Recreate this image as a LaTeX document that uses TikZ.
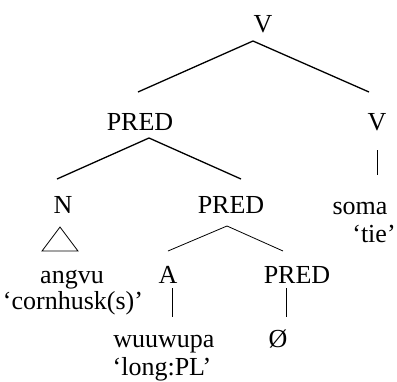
\documentclass[tikz,border=0pt]{standalone}
\usepackage{fontspec}
\setmainfont{Liberation Serif}
\begin{document}
\begin{tikzpicture}[x=1pt,y=-1pt,
  lbl/.style={anchor=base,inner sep=0pt,font=\fontsize{26}{28}\selectfont},
  thick edge/.style={line width=1.3pt},
  thin edge/.style={line width=0.8pt}]
\useasboundingbox (0,0) rectangle (397,381);
% labels
\node[lbl] (v0) at (263,32) {V};
\node[lbl] (p1) at (140,130) {PRED};
\node[lbl] (v1) at (377,130) {V};
\node[lbl] (n) at (63,213) {N};
\node[lbl] (p2) at (231,213) {PRED};
\node[lbl] (soma) at (360,214) {soma};
\node[lbl] (tie) at (374,242) {‘tie’};
\node[lbl] (angvu) at (72,283) {angvu};
\node[lbl] (corn) at (73,309) {‘cornhusk(s)’};
\node[lbl] (a) at (168,283) {A};
\node[lbl] (p3) at (297,283) {PRED};
\node[lbl] (wuu) at (164,347) {wuuwupa};
\node[lbl] (long) at (162,375) {‘long:PL’};
\node[lbl] (zero) at (278,347) {Ø};
% connectors
\coordinate (c0) at (253,41);
\coordinate (c0l) at (138,92);
\coordinate (c0r) at (369,92);
\draw[thick edge] (c0l) -- (c0) -- (c0r);
\coordinate (c1) at (149,138);
\coordinate (c1l) at (57,179);
\coordinate (c1r) at (241,179);
\draw[thick edge] (c1l) -- (c1) -- (c1r);
\coordinate (c2) at (227,226);
\coordinate (c2l) at (168,251);
\coordinate (c2r) at (283,251);
\draw[thin edge] (c2l) -- (c2) -- (c2r);
\coordinate (tA) at (60,227);
\coordinate (tB) at (42,251);
\coordinate (tC) at (78,251);
\draw[thin edge] (tA) -- (tB) -- (tC) -- cycle;
\coordinate (vt) at (377,150);
\coordinate (vb) at (377,175);
\draw[thin edge] (vt) -- (vb);
\coordinate (at) at (172,288);
\coordinate (ab) at (172,317);
\draw[thin edge] (at) -- (ab);
\coordinate (pt) at (286,288);
\coordinate (pb) at (286,317);
\draw[thin edge] (pt) -- (pb);
\end{tikzpicture}
\end{document}
